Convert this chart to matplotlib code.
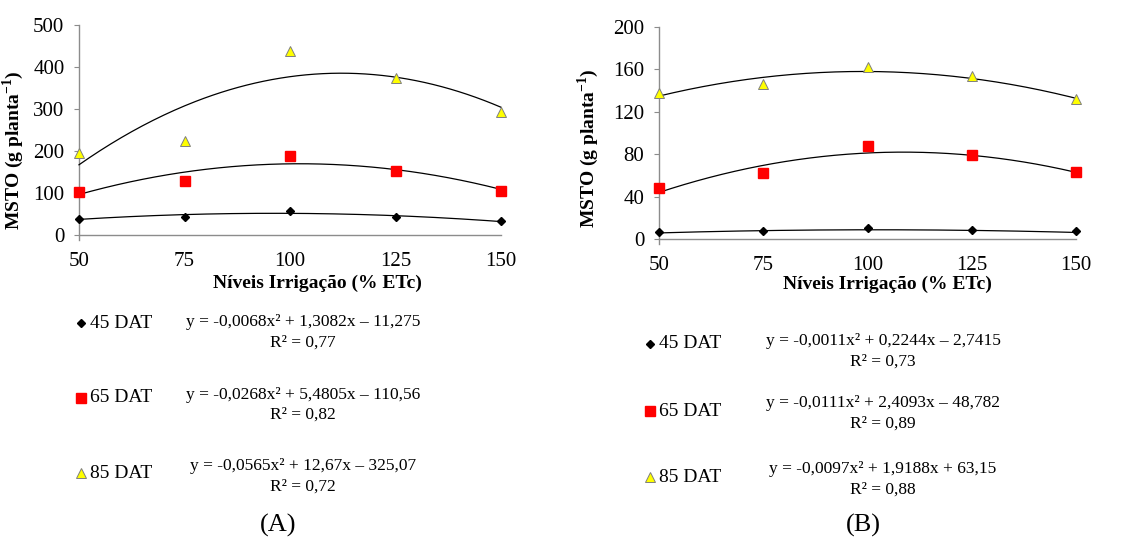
import numpy as np
import matplotlib
matplotlib.use("Agg")
import matplotlib.pyplot as plt

plt.rcParams["font.family"] = ["Liberation Serif", "DejaVu Serif"]
plt.rcParams["mathtext.fontset"] = "custom"
plt.rcParams["mathtext.rm"] = "Liberation Serif"
plt.rcParams["mathtext.bf"] = "Liberation Serif:bold"

# irrigation levels (% ETc)
levels = [50, 75, 100, 125, 150]
series = ["45 DAT", "65 DAT", "85 DAT"]

# panel A observed values
a_45 = [37, 43, 57, 43, 33]
a_65 = [103, 128, 187, 153, 105]
a_85 = [195, 224, 437, 373, 292]
# panel A trend coefficients (x², x, const) and R²
a_coef = [[-0.0068, 1.3082, -11.275], [-0.0268, 5.4805, -110.56], [-0.0565, 12.67, -325.07]]
a_eq = ["y = -0,0068x² + 1,3082x – 11,275", "y = -0,0268x² + 5,4805x – 110,56",
        "y = -0,0565x² + 12,67x – 325,07"]
a_r2 = ["R² = 0,77", "R² = 0,82", "R² = 0,72"]

# panel B observed values
b_45 = [6.3, 7.9, 10, 8.5, 7.2]
b_65 = [47.8, 62, 88, 79, 63]
b_85 = [137.4, 146, 162.5, 153.5, 132.5]
b_coef = [[-0.0011, 0.2244, -2.7415], [-0.0111, 2.4093, -48.782], [-0.0097, 1.9188, 63.15]]
b_eq = ["y = -0,0011x² + 0,2244x – 2,7415", "y = -0,0111x² + 2,4093x – 48,782",
        "y = -0,0097x² + 1,9188x + 63,15"]
b_r2 = ["R² = 0,73", "R² = 0,89", "R² = 0,88"]

styles = [
    dict(marker="D", markersize=4.2, color="black", markeredgecolor="black"),
    dict(marker="s", markersize=6.5, color="#ff0000", markeredgecolor="#ff0000"),
    dict(marker="^", markersize=7, color="#ffff00", markeredgecolor="#7f7f7f", markeredgewidth=0.7),
]


def draw_panel(ax, data, coefs, ymax, ystep):
    xs = np.linspace(50, 150, 200)
    for vals, c, st in zip(data, coefs, styles):
        ax.plot(xs, np.polyval(c, xs), color="black", lw=0.9, zorder=2, clip_on=False)
        ax.plot(levels, vals, linestyle="none", zorder=3, clip_on=False, **st)
    ax.set_xlim(50, 150)
    ax.set_ylim(0, ymax)
    ax.set_xticks(levels)
    ax.set_yticks(np.arange(0, ymax + 1, ystep))
    for s in ["top", "right"]:
        ax.spines[s].set_visible(False)
    for s in ["left", "bottom"]:
        ax.spines[s].set_color("#8c8c8c")
        ax.spines[s].set_linewidth(1.0)
        ax.spines[s].set_zorder(1)
    ax.spines["left"].set_bounds(-0.025 * ymax, ymax)
    ax.tick_params(axis="y", direction="out", length=3.5, color="#8c8c8c", labelsize=15, pad=7)
    ax.tick_params(axis="x", length=0, labelsize=15, pad=12)
    ax.set_xlabel("Níveis Irrigação (% ETc)", fontsize=14, fontweight="bold")
    ax.set_ylabel(r"MSTO (g planta$^{\mathbf{-1}}$)", fontsize=14, fontweight="bold")


fig = plt.figure(figsize=(11.41, 5.40), dpi=100)
W, H = 1141.0, 540.0
axA = fig.add_axes([79 / W, 1 - 235 / H, 422 / W, 210 / H])
axB = fig.add_axes([659 / W, 1 - 239 / H, 417 / W, 212 / H])

draw_panel(axA, [a_45, a_65, a_85], a_coef, 500, 100)
draw_panel(axB, [b_45, b_65, b_85], b_coef, 200, 40)
axA.yaxis.set_label_coords(-0.125, 0.405)
axB.yaxis.set_label_coords(-0.138, 0.43)
axA.xaxis.set_label_coords(0.566, -0.19)
axB.xaxis.set_label_coords(0.549, -0.175)


def draw_legend(mx, tx, ys, eqx, eqys, r2ys, eqs, r2s, tag, tagx):
    for st, name, y, eq, ey, r2, ry in zip(styles, series, ys, eqs, eqys, r2s, r2ys):
        fig.lines.append(plt.Line2D([mx / W], [1 - y / H], transform=fig.transFigure,
                                    linestyle="none", **st))
        fig.text(tx / W, 1 - y / H, name, fontsize=14, va="center", ha="left")
        fig.text(eqx / W, 1 - ey / H, eq, fontsize=12.5, va="center", ha="center")
        fig.text(eqx / W, 1 - ry / H, r2, fontsize=12.5, va="center", ha="center")
    fig.text(tagx / W, 1 - 525 / H, tag, fontsize=19, va="center", ha="center")


draw_legend(81, 90, [323, 398, 473], 303, [322, 395, 466], [343, 415, 487],
            a_eq, a_r2, "(A)", 278)
draw_legend(650, 659, [344, 411, 477], 883, [341, 403, 469], [362, 424, 490],
            b_eq, b_r2, "(B)", 863)

fig.savefig("out.png", dpi=100)
